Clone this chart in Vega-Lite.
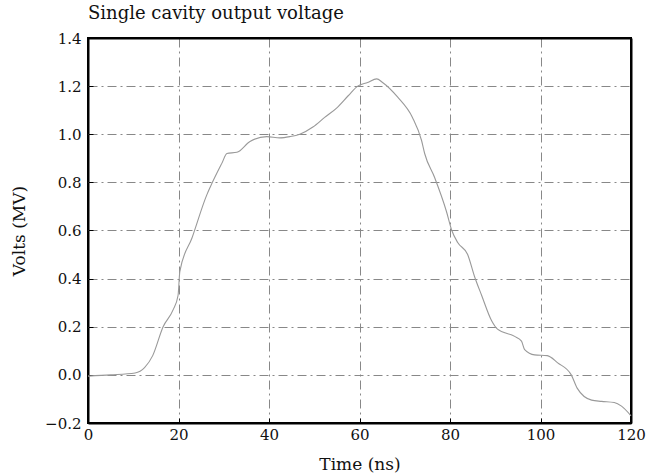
{
  "$schema": "https://vega.github.io/schema/vega-lite/v6.json",
  "width": 543,
  "height": 385,
  "autosize": {"type": "none"},
  "padding": {"left": 88, "top": 38, "right": 24, "bottom": 53},
  "background": "white",
  "title": {
    "text": "Single cavity output voltage",
    "anchor": "start",
    "frame": "group",
    "font": "DejaVu Serif",
    "fontSize": 18,
    "fontWeight": "normal",
    "color": "#111",
    "offset": 8
  },
  "config": {
    "view": {"stroke": "#000", "strokeWidth": 2},
    "axis": {
      "labelFont": "DejaVu Serif",
      "titleFont": "DejaVu Serif",
      "labelFontSize": 15,
      "titleFontSize": 17,
      "titleFontWeight": "normal",
      "labelColor": "#111",
      "titleColor": "#111",
      "labelFlush": false,
      "labelOverlap": false,
      "domain": false,
      "tickColor": "#000",
      "tickSize": -5
    }
  },
  "data": {
    "values": [
      {"t": 0, "v": -0.005},
      {"t": 5, "v": 0.0},
      {"t": 10.4, "v": 0.008},
      {"t": 12.5, "v": 0.03},
      {"t": 14.3, "v": 0.08},
      {"t": 16.6, "v": 0.2},
      {"t": 18.8, "v": 0.27},
      {"t": 19.9, "v": 0.33},
      {"t": 20.3, "v": 0.43},
      {"t": 23, "v": 0.57},
      {"t": 26.3, "v": 0.75},
      {"t": 27, "v": 0.78},
      {"t": 29.6, "v": 0.88},
      {"t": 30.7, "v": 0.92},
      {"t": 32.9, "v": 0.925},
      {"t": 35.8, "v": 0.97},
      {"t": 39.5, "v": 0.99},
      {"t": 42.4, "v": 0.985},
      {"t": 44.6, "v": 0.99},
      {"t": 46.8, "v": 1.0},
      {"t": 49.7, "v": 1.03},
      {"t": 52.3, "v": 1.07},
      {"t": 55, "v": 1.11},
      {"t": 57.5, "v": 1.16},
      {"t": 59.6, "v": 1.2},
      {"t": 61.8, "v": 1.215},
      {"t": 63.8, "v": 1.23},
      {"t": 65.1, "v": 1.215},
      {"t": 68.4, "v": 1.155},
      {"t": 71.7, "v": 1.07},
      {"t": 73.7, "v": 0.975},
      {"t": 74.4, "v": 0.92},
      {"t": 76.6, "v": 0.82},
      {"t": 79.2, "v": 0.68},
      {"t": 80.4, "v": 0.6},
      {"t": 81.7, "v": 0.55},
      {"t": 83.9, "v": 0.5},
      {"t": 85.4, "v": 0.41},
      {"t": 87, "v": 0.33},
      {"t": 89.2, "v": 0.225},
      {"t": 90.5, "v": 0.19},
      {"t": 94.3, "v": 0.16},
      {"t": 95.8, "v": 0.14},
      {"t": 96.5, "v": 0.105},
      {"t": 98.7, "v": 0.083},
      {"t": 101.5, "v": 0.08},
      {"t": 103.8, "v": 0.05},
      {"t": 106.8, "v": 0.0},
      {"t": 108.1, "v": -0.055},
      {"t": 111.3, "v": -0.105},
      {"t": 113.5, "v": -0.11},
      {"t": 116.3, "v": -0.115},
      {"t": 117.9, "v": -0.13},
      {"t": 120, "v": -0.17}
    ]
  },
  "mark": {"type": "line", "color": "#999", "strokeWidth": 1.1, "interpolate": "monotone"},
  "encoding": {
    "x": {
      "field": "t",
      "type": "quantitative",
      "scale": {"domain": [0, 120], "nice": false},
      "axis": {
        "title": "Time (ns)",
        "values": [0, 20, 40, 60, 80, 100, 120],
        "format": "d",
        "labelPadding": 9,
        "titlePadding": 14,
        "gridColor": {"condition": {"test": "datum.value == 0 || datum.value == 120", "value": "#000"}, "value": "#888"},
        "gridDash": {"condition": {"test": "datum.value == 0 || datum.value == 120", "value": []}, "value": [9, 4, 2, 4]},
        "gridWidth": {"condition": {"test": "datum.value == 0 || datum.value == 120", "value": 2}, "value": 1}
      }
    },
    "y": {
      "field": "v",
      "type": "quantitative",
      "scale": {"domain": [-0.2, 1.4], "nice": false},
      "axis": {
        "title": "Volts (MV)",
        "values": [-0.2, 0, 0.2, 0.4, 0.6, 0.8, 1.0, 1.2, 1.4],
        "format": ".1f",
        "labelPadding": 12,
        "titlePadding": 16,
        "gridColor": {"condition": {"test": "datum.value < -0.19 || datum.value > 1.39", "value": "#000"}, "value": "#888"},
        "gridDash": {"condition": {"test": "datum.value < -0.19 || datum.value > 1.39", "value": []}, "value": [9, 4, 2, 4]},
        "gridWidth": {"condition": {"test": "datum.value < -0.19 || datum.value > 1.39", "value": 2}, "value": 1}
      }
    }
  }
}
